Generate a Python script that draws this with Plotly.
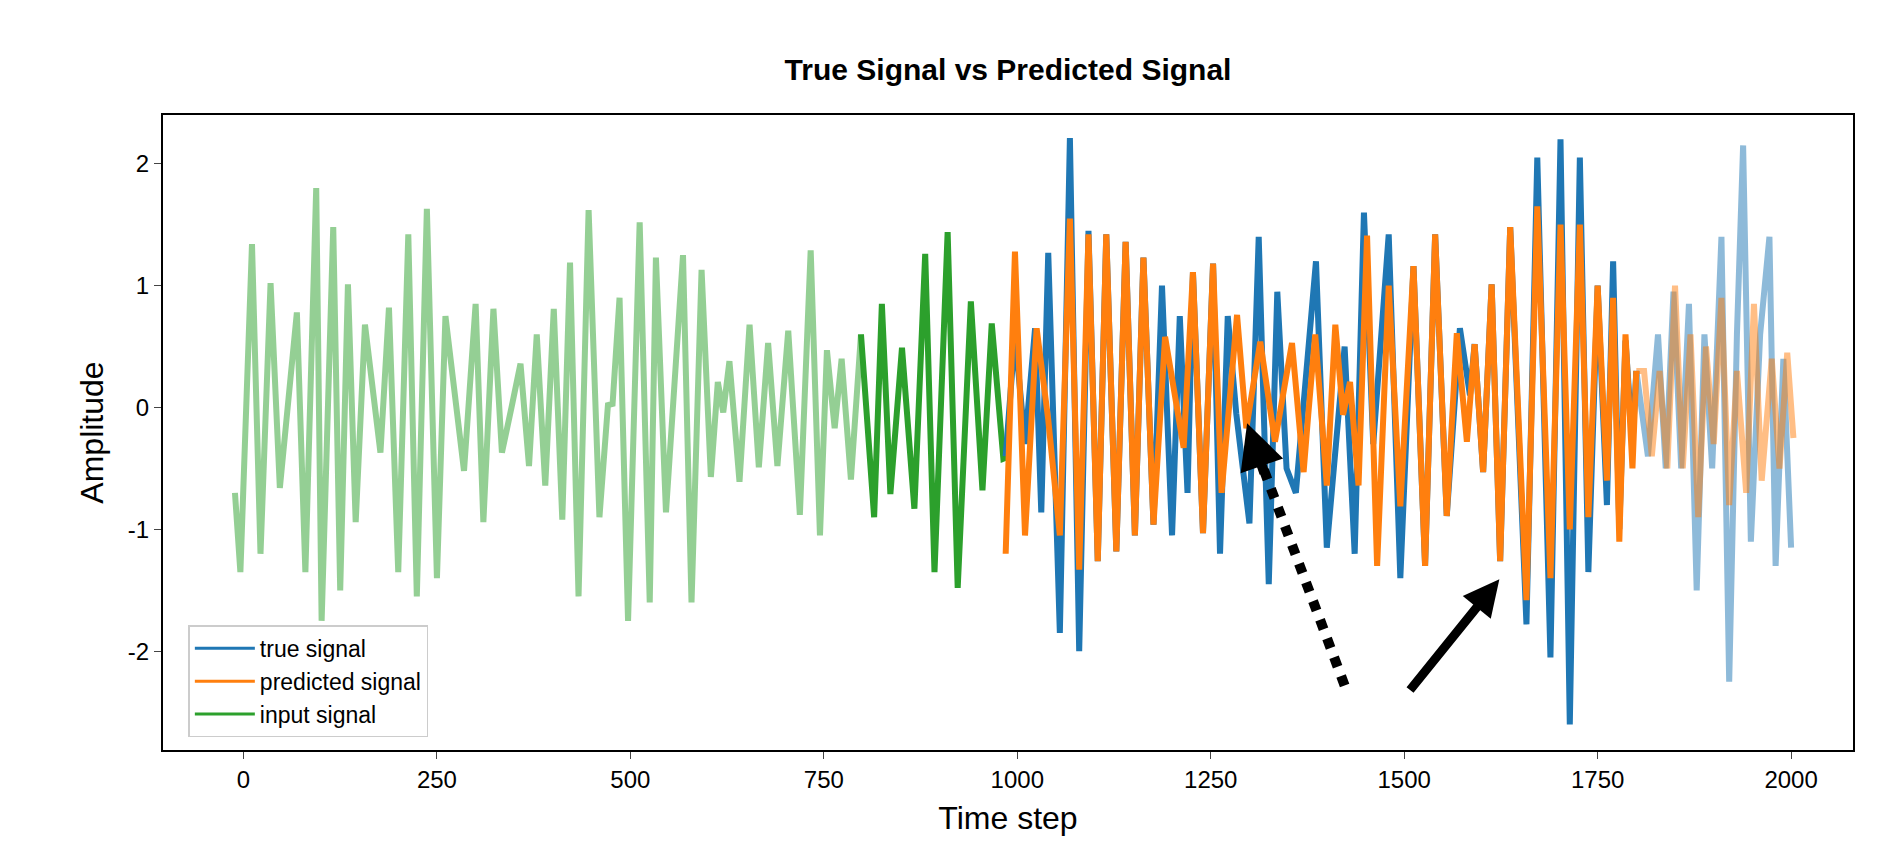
import plotly.graph_objects as go

# input signal (light part, then the darker last window)
in_x = [-11, -4, 11, 22, 35, 47, 69, 80, 94, 101, 116, 125, 135, 145, 157, 177, 188, 200,
        213, 224, 237, 250, 261, 285, 300, 310, 323, 334, 347, 358, 369, 379, 390, 401, 412,
        422, 433, 446, 460, 471, 477, 486, 497, 512, 525, 533, 546, 568, 579, 592, 604, 613,
        620, 628, 641, 654, 666, 678, 690, 704, 719, 733, 745, 754, 764, 773, 785, 798]
in_y = [-0.70, -1.35, 1.34, -1.2, 1.02, -0.66, 0.78, -1.35, 1.80, -1.75, 1.48, -1.5, 1.01, -0.94,
        0.68, -0.37, 0.82, -1.35, 1.42, -1.55, 1.63, -1.4, 0.75, -0.52, 0.85, -0.94, 0.81, -0.37,
        0.02, 0.36, -0.48, 0.6, -0.64, 0.81, -0.92, 1.19, -1.55, 1.62, -0.9, 0.02, 0.03, 0.9,
        -1.75, 1.52, -1.6, 1.23, -0.86, 1.25, -1.6, 1.13, -0.57, 0.21, -0.04, 0.38, -0.61, 0.68,
        -0.49, 0.53, -0.48, 0.63, -0.88, 1.29, -1.05, 0.47, -0.17, 0.4, -0.59, 0.6]
win_x = [798, 815, 825, 836, 851, 867, 881, 893, 910, 923, 940, 955, 967, 982, 990]
win_y = [0.6, -0.9, 0.85, -0.71, 0.49, -0.83, 1.26, -1.35, 1.44, -1.48, 0.87, -0.68, 0.69, -0.42, -0.4]

# true signal
true_x = [985, 997, 1010, 1023, 1031, 1040, 1055, 1068, 1080, 1092, 1104, 1115, 1128, 1140, 1152,
          1163, 1176, 1187, 1200, 1210, 1220, 1227, 1240, 1253, 1262, 1272, 1283, 1300, 1312, 1325,
          1336, 1348, 1360, 1386, 1400, 1423, 1436, 1448, 1460, 1480, 1495, 1512, 1527, 1540, 1555,
          1572, 1585, 1591, 1602, 1613, 1624, 1637, 1658, 1672, 1689, 1702, 1714, 1727, 1738, 1750,
          1762, 1770, 1778, 1786, 1795, 1800]
true_y = [-0.4, 0.6, -0.3, 0.65, -0.86, 1.27, -1.85, 2.21, -2.0, 1.45, -1.26, 1.42, -1.18, 1.36, -1.05,
          1.23, -0.96, 1.0, -1.05, 0.75, -0.7, 1.11, -1.03, 1.18, -1.2, 0.75, -0.05, -0.95, 1.4, -1.45,
          0.95, -0.5, -0.7, 1.2, -1.15, 0.5, -1.2, 1.6, -0.3, 1.42, -1.4, 1.16, -1.3, 1.42, -0.89,
          0.65, 0.1, 0.52, -0.53, 1.01, -1.26, 1.48, -1.78, 2.05, -2.05, 2.2, -2.6, 2.05, -1.35, 1.0,
          -0.8, 1.2, -1.0, 0.55, -0.3, 0.3]
true_tail_x = [1800, 1815, 1828, 1838, 1848, 1858, 1868, 1878, 1888, 1898, 1910, 1920, 1930, 1938,
               1948, 1960, 1972, 1980, 1990, 2000]
true_tail_y = [0.3, -0.4, 0.6, -0.5, 0.95, -0.5, 0.85, -1.5, 0.6, -0.5, 1.4, -2.25, 0.6, 2.15,
               -1.1, 0.6, 1.4, -1.3, 0.4, -1.15]

# predicted signal
pred_x = [985, 997, 1010, 1025, 1040, 1055, 1068, 1080, 1092, 1104, 1115, 1128, 1140, 1152, 1163,
          1176, 1191, 1204, 1215, 1227, 1240, 1253, 1264, 1284, 1296, 1314, 1333, 1355, 1370, 1376,
          1385, 1400, 1411, 1421, 1430, 1441, 1452, 1465, 1480, 1495, 1512, 1527, 1540, 1555, 1568,
          1581, 1591, 1602, 1613, 1624, 1637, 1658, 1672, 1689, 1702, 1714, 1727, 1738, 1750, 1762,
          1770, 1778, 1786, 1795, 1800]
pred_y = [-1.2, 1.28, -1.05, 0.65, -0.1, -1.05, 1.55, -1.33, 1.42, -1.26, 1.42, -1.18, 1.36, -1.05, 1.23,
          -0.96, 0.58, 0.07, -0.33, 1.11, -1.03, 1.18, -0.7, 0.76, -0.17, 0.54, -0.28, 0.53, -0.53, -0.06,
          0.6, -0.64, 0.68, -0.06, 0.21, -0.64, 1.41, -1.3, 1.0, -0.81, 1.16, -1.3, 1.42, -0.89, 0.61,
          -0.28, 0.52, -0.53, 1.01, -1.26, 1.48, -1.58, 1.65, -1.4, 1.5, -1.0, 1.5, -0.9, 1.0, -0.6,
          0.9, -1.1, 0.6, -0.5, 0.3]
pred_tail_x = [1800, 1810, 1820, 1830, 1840, 1850, 1860, 1870, 1880, 1890, 1900, 1910, 1920, 1930,
               1942, 1952, 1962, 1975, 1985, 1995, 2003]
pred_tail_y = [0.3, 0.3, -0.4, 0.3, -0.5, 1.0, -0.5, 0.6, -0.9, 0.5, -0.3, 0.9, -0.8, 0.3, -0.7,
               0.85, -0.6, 0.4, -0.5, 0.45, -0.25]

x_ticks = [0, 250, 500, 750, 1000, 1250, 1500, 1750, 2000]
y_ticks = [-2, -1, 0, 1, 2]

BLUE, ORANGE, GREEN = "#1f77b4", "#ff7f0e", "#2ca02c"
lw = 6

fig = go.Figure()
# legend-only entries drawn with thin lines like matplotlib's legend
for name, c in [("true signal", BLUE), ("predicted signal", ORANGE), ("input signal", GREEN)]:
    fig.add_trace(go.Scatter(x=[None], y=[None], mode="lines", name=name,
                             line=dict(color=c, width=3)))

fig.add_trace(go.Scatter(x=in_x, y=in_y, mode="lines", line=dict(color=GREEN, width=lw),
                         opacity=0.5, showlegend=False))
fig.add_trace(go.Scatter(x=win_x, y=win_y, mode="lines", line=dict(color=GREEN, width=lw),
                         showlegend=False))
fig.add_trace(go.Scatter(x=true_tail_x, y=true_tail_y, mode="lines", line=dict(color=BLUE, width=lw),
                         opacity=0.5, showlegend=False))
fig.add_trace(go.Scatter(x=true_x, y=true_y, mode="lines", line=dict(color=BLUE, width=lw),
                         showlegend=False))
fig.add_trace(go.Scatter(x=pred_tail_x, y=pred_tail_y, mode="lines", line=dict(color=ORANGE, width=lw),
                         opacity=0.5, showlegend=False))
fig.add_trace(go.Scatter(x=pred_x, y=pred_y, mode="lines", line=dict(color=ORANGE, width=lw),
                         showlegend=False))

# dotted arrow
fig.add_shape(type="line", x0=1423, y0=-2.28, x1=1315, y1=-0.45,
              line=dict(color="black", width=10, dash="dot"))
fig.add_annotation(x=1297, y=-0.13, ax=1320, ay=-0.55, xref="x", yref="y", axref="x", ayref="y",
                   text="", showarrow=True, arrowhead=2, arrowsize=0.9, arrowwidth=10, arrowcolor="black")
# solid arrow
fig.add_annotation(x=1623, y=-1.41, ax=1506, ay=-2.33, xref="x", yref="y", axref="x", ayref="y",
                   text="", showarrow=True, arrowhead=2, arrowsize=0.8, arrowwidth=9, arrowcolor="black")

fig.update_layout(
    width=1901, height=861,
    paper_bgcolor="white", plot_bgcolor="white",
    margin=dict(l=155, r=56, t=107, b=119),
    font=dict(family="Liberation Sans, Arial", color="black"),
    title=dict(text="<b>True Signal vs Predicted Signal</b>", x=(155 + 1845) / 2 / 1901,
               xanchor="center", y=1 - 61 / 861, yanchor="middle", font=dict(size=30)),
    legend=dict(x=0.015, y=0.02, xanchor="left", yanchor="bottom", itemwidth=60,
                bgcolor="rgba(255,255,255,0.8)", bordercolor="#cccccc", borderwidth=1.5,
                font=dict(size=23)),
    xaxis=dict(range=[-104, 2080], tickvals=x_ticks,
               ticks="outside", ticklen=7, tickfont=dict(size=24), showgrid=False, zeroline=False,
               showline=True, mirror=True, linecolor="black", linewidth=2,
               title=dict(text="Time step", font=dict(size=32))),
    yaxis=dict(range=[-2.81, 2.40], tickvals=y_ticks, ticktext=[str(v) for v in y_ticks],
               ticks="outside", ticklen=7,
               tickfont=dict(size=24), showgrid=False, zeroline=False,
               showline=True, mirror=True, linecolor="black", linewidth=2,
               title=dict(text="Amplitude", font=dict(size=32))),
)

fig.write_html("out.html")
